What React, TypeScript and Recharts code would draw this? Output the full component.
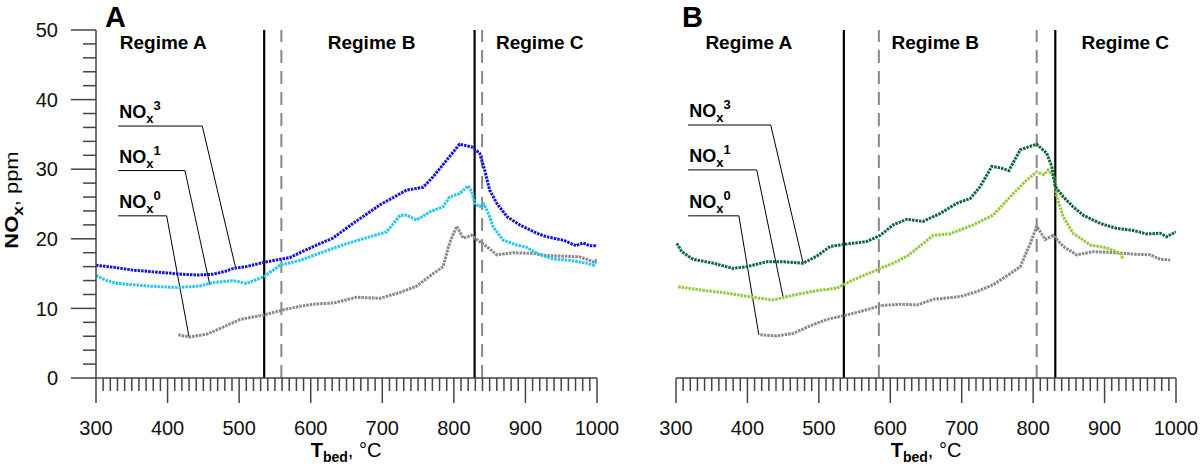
import { LineChart, Line, XAxis, YAxis, ReferenceLine, ReferenceDot } from "recharts";

// ---- panel A (blue series) ----
const aT3 = [300, 325, 352, 375, 399, 420, 441, 463, 480, 492, 510, 534, 557, 571, 585, 604, 631, 659, 697, 734, 757, 771, 790, 808, 825, 836, 843, 850, 860, 874, 892, 916, 929, 953, 971, 980, 990, 1000];
const aV3 = [16.2, 15.9, 15.5, 15.3, 15.1, 14.9, 14.8, 14.9, 15.3, 15.75, 16.0, 16.6, 17.05, 17.3, 18.0, 18.9, 20.1, 22.2, 24.9, 27.0, 27.4, 28.9, 31.3, 33.6, 33.2, 32.3, 29.9, 27.0, 25.1, 23.2, 22.0, 20.8, 20.3, 19.8, 19.0, 19.4, 19.0, 19.0];

const aT1 = [300, 315, 329, 350, 375, 413, 445, 463, 492, 510, 534, 557, 585, 617, 650, 683, 706, 725, 734, 748, 767, 785, 794, 808, 820, 825, 829, 836, 842, 848, 855, 869, 888, 901, 920, 939, 962, 985, 995, 1000];
const aV1 = [14.7, 14.0, 13.6, 13.4, 13.2, 13.0, 13.2, 13.7, 14.0, 13.6, 14.5, 16.2, 16.9, 18.1, 19.3, 20.3, 21.0, 23.4, 23.4, 22.7, 23.9, 24.6, 26.0, 26.5, 27.6, 26.8, 25.1, 24.6, 25.0, 23.7, 21.7, 19.8, 19.1, 18.8, 17.7, 17.1, 16.9, 16.5, 16.2, 17.0];

const aT0 = [415, 431, 455, 473, 501, 534, 562, 585, 604, 633, 664, 697, 725, 748, 771, 785, 794, 804, 813, 825, 829, 846, 860, 883, 911, 929, 953, 976, 995, 1000];
const aV0 = [6.2, 5.9, 6.3, 7.1, 8.4, 9.05, 9.8, 10.3, 10.6, 10.8, 11.6, 11.45, 12.3, 13.2, 15.0, 16.0, 19.4, 21.8, 20.1, 20.5, 20.1, 18.9, 17.7, 18.0, 17.9, 17.6, 17.5, 17.4, 16.7, 17.0];

// ---- panel B (green series) ----
const bT3 = [301, 308, 324, 352, 380, 399, 427, 451, 478, 497, 516, 539, 567, 586, 604, 623, 646, 670, 693, 712, 726, 742, 754, 766, 782, 805, 819, 826, 831, 842, 856, 870, 894, 917, 940, 959, 978, 987, 1000];
const bV3 = [19.35, 18.15, 17.05, 16.5, 15.75, 16.0, 16.7, 16.7, 16.5, 17.5, 18.9, 19.25, 19.6, 20.5, 22.0, 22.8, 22.5, 23.65, 25.1, 25.8, 27.5, 30.4, 30.2, 29.8, 32.8, 33.6, 32.3, 30.4, 27.5, 26.05, 24.6, 23.4, 22.2, 21.5, 21.2, 20.7, 20.8, 20.3, 21.0];

const bT1 = [303, 338, 371, 408, 436, 464, 497, 525, 548, 576, 604, 625, 660, 683, 716, 744, 768, 791, 805, 815, 821, 829, 833, 842, 856, 880, 903, 922, 926];
const bV1 = [13.1, 12.6, 12.2, 11.6, 11.2, 11.9, 12.55, 12.9, 14.1, 15.3, 16.5, 17.6, 20.5, 20.7, 22.0, 23.4, 26.05, 28.45, 29.6, 29.2, 29.9, 29.0, 26.05, 23.2, 20.8, 19.1, 18.7, 17.9, 17.05];

const bT0 = [418, 441, 464, 488, 511, 539, 567, 586, 614, 638, 660, 698, 721, 744, 768, 782, 796, 805, 817, 828, 842, 861, 884, 917, 940, 964, 978, 992];
const bV0 = [6.2, 6.05, 6.4, 7.5, 8.4, 9.05, 9.8, 10.4, 10.6, 10.5, 11.3, 11.7, 12.4, 13.4, 15.0, 16.0, 19.35, 21.8, 19.9, 20.5, 18.9, 17.7, 18.15, 18.0, 17.8, 17.7, 17.05, 16.95];

// regime boundaries (solid) and dashed markers, °C
const aSolid = [535, 829];
const aDashed = [559, 839.5];
const bSolid = [535, 831];
const bDashed = [584, 805];

const regimeNames = ["Regime A", "Regime B", "Regime C"];
const aRegimeX = [394, 685, 920];
const bRegimeX = [402, 663, 929];

// callouts: label, horizontal level, start x, elbow x, end point
const calloutSup = ["3", "1", "0"];
const aCallY = [36.2, 29.8, 23.3];
const aCallElbow = [448.5, 424.3, 398.7];
const aCallEnd = [[495.5, 15.65], [459, 13.4], [430, 5.9]];
const aCallStart = 331;
const bCallY = [36.35, 29.9, 23.3];
const bCallElbow = [432.6, 413, 388];
const bCallEnd = [[478, 16.5], [450, 11.6], [416, 6.2]];
const bCallStart = 317;

const xMajor = [300, 400, 500, 600, 700, 800, 900, 1000];
const yMajor = [0, 10, 20, 30, 40, 50];

const xTicks: number[] = [];
xMajor.forEach((m, i) => {
  xTicks.push(m);
  if (i < xMajor.length - 1) for (let k = 10; k < 100; k += 10) xTicks.push(m + k);
});
const yTicks: number[] = [];
yMajor.forEach((m, i) => {
  yTicks.push(m);
  if (i < yMajor.length - 1) for (let k = 2; k < 10; k += 2) yTicks.push(m + k);
});

const FONT = "'Liberation Sans', Arial, Helvetica, sans-serif";
const AXIS = "#444";

const zip = (t: number[], v: number[]) => t.map((x, i) => ({ t: x, v: v[i] }));

const XTick = (props: any) => {
  const { x, y, payload } = props;
  const major = payload.value % 100 === 0;
  return (
    <g>
      <line x1={x} x2={x} y1={y} y2={y + (major ? 25 : 13)} stroke={AXIS} strokeWidth={1.5} />
      {major && (
        <text x={x} y={y + 57} textAnchor="middle" fontSize={20} fill="#111" fontFamily={FONT}>
          {payload.value}
        </text>
      )}
    </g>
  );
};

const YTick = (props: any) => {
  const { x, y, payload } = props;
  const major = payload.value % 10 === 0;
  return (
    <g>
      <line x1={x - (major ? 25 : 13)} x2={x} y1={y} y2={y} stroke={AXIS} strokeWidth={1.5} />
      {major && (
        <text x={x - 38} y={y} dy="0.36em" textAnchor="end" fontSize={20} fill="#111" fontFamily={FONT}>
          {payload.value}
        </text>
      )}
    </g>
  );
};

const NoxLabel = (sup: string) => (p: any) => (
  <text x={p.viewBox.x + 1} y={p.viewBox.y - 8} fontFamily={FONT} fontWeight="bold" fontSize={18} fill="#000">
    NO
    <tspan fontSize={13} dy={5}>x</tspan>
    <tspan fontSize={13} dy={-13}>{sup}</tspan>
  </text>
);

const RegimeLabel = (name: string) => (p: any) => (
  <text x={p.viewBox.x} y={p.viewBox.y} textAnchor="middle" fontFamily={FONT} fontWeight="bold" fontSize={19} fill="#000">
    {name}
  </text>
);

type PanelProps = {
  series: { t: number; v: number }[][];
  colors: string[];
  solid: number[];
  dashed: number[];
  regimeX: number[];
  callY: number[];
  callElbow: number[];
  callEnd: number[][];
  callStart: number;
  showY: boolean;
};

function Panel(p: PanelProps) {
  return (
    <LineChart
      width={640}
      height={467}
      margin={p.showY ? { top: 30, right: 43, bottom: 0, left: 0 } : { top: 30, right: 64, bottom: 0, left: 76 }}
    >
      <XAxis
        dataKey="t"
        type="number"
        domain={[300, 1000]}
        ticks={xTicks}
        interval={0}
        tickSize={0}
        tickMargin={0}
        tickLine={false}
        tick={<XTick />}
        height={89}
        axisLine={{ stroke: AXIS, strokeWidth: 1.5 }}
        allowDataOverflow
      />
      <YAxis
        type="number"
        domain={[0, 50]}
        ticks={yTicks}
        interval={0}
        tickSize={0}
        tickMargin={0}
        tickLine={false}
        tick={<YTick />}
        width={96}
        hide={!p.showY}
        axisLine={{ stroke: AXIS, strokeWidth: 1.5 }}
        allowDataOverflow
      />
      {p.dashed.map((x) => (
        <ReferenceLine key={"d" + x} x={x} stroke="#888" strokeWidth={2} strokeDasharray="13 8" />
      ))}
      {p.solid.map((x) => (
        <ReferenceLine key={"s" + x} x={x} stroke="#000" strokeWidth={2.2} />
      ))}
      {p.regimeX.map((x, i) => (
        <ReferenceDot key={"r" + i} x={x} y={47.3} r={0} fill="none" stroke="none" label={RegimeLabel(regimeNames[i])} />
      ))}
      {p.callY.map((y, i) => (
        <ReferenceLine
          key={"ch" + i}
          segment={[{ x: p.callStart, y }, { x: p.callElbow[i], y }]}
          stroke="#000"
          strokeWidth={1}
          label={NoxLabel(calloutSup[i])}
        />
      ))}
      {p.callY.map((y, i) => (
        <ReferenceLine
          key={"cd" + i}
          segment={[{ x: p.callElbow[i], y }, { x: p.callEnd[i][0], y: p.callEnd[i][1] }]}
          stroke="#000"
          strokeWidth={1}
        />
      ))}
      {p.series.map((d, i) => (
        <Line
          key={"l" + i}
          data={d}
          dataKey="v"
          type="linear"
          stroke={p.colors[i]}
          strokeWidth={3}
          strokeDasharray="2.5 1"
          dot={false}
          isAnimationActive={false}
        />
      ))}
    </LineChart>
  );
}

export default function App() {
  return (
    <div style={{ position: "absolute", left: 0, top: 0, width: 1200, height: 467, background: "#fff", fontFamily: FONT, overflow: "hidden" }}>
      <div style={{ position: "absolute", left: 0, top: 0 }}>
        <Panel
          series={[zip(aT0, aV0), zip(aT1, aV1), zip(aT3, aV3)]}
          colors={["#8a8a8a", "#22c6ef", "#1414d6"]}
          solid={aSolid}
          dashed={aDashed}
          regimeX={aRegimeX}
          callY={aCallY}
          callElbow={aCallElbow}
          callEnd={aCallEnd}
          callStart={aCallStart}
          showY
        />
      </div>
      <div style={{ position: "absolute", left: 600, top: 0 }}>
        <Panel
          series={[zip(bT0, bV0), zip(bT1, bV1), zip(bT3, bV3)]}
          colors={["#8a8a8a", "#95c93d", "#0c6a38"]}
          solid={bSolid}
          dashed={bDashed}
          regimeX={bRegimeX}
          callY={bCallY}
          callElbow={bCallElbow}
          callEnd={bCallEnd}
          callStart={bCallStart}
          showY={false}
        />
      </div>
      <svg width={1200} height={467} style={{ position: "absolute", left: 0, top: 0, pointerEvents: "none" }}>
        <text x={105} y={27} fontSize={29} fontWeight="bold" fontFamily={FONT}>A</text>
        <text x={682} y={27} fontSize={29} fontWeight="bold" fontFamily={FONT}>B</text>
        <text transform="translate(18,200) rotate(-90) scale(1.22,1)" textAnchor="middle" fontSize={18} fontFamily={FONT}>
          <tspan fontWeight="bold">NO</tspan>
          <tspan fontWeight="bold" fontSize={14} dy={5}>x</tspan>
          <tspan dy={-5}>, ppm</tspan>
        </text>
        {[346, 926].map((cx) => (
          <text key={cx} x={cx} y={457} textAnchor="middle" fontSize={20} fontFamily={FONT}>
            <tspan fontWeight="bold">T</tspan>
            <tspan fontWeight="bold" fontSize={14} dy={5}>bed</tspan>
            <tspan dy={-5}>, °C</tspan>
          </text>
        ))}
      </svg>
    </div>
  );
}
